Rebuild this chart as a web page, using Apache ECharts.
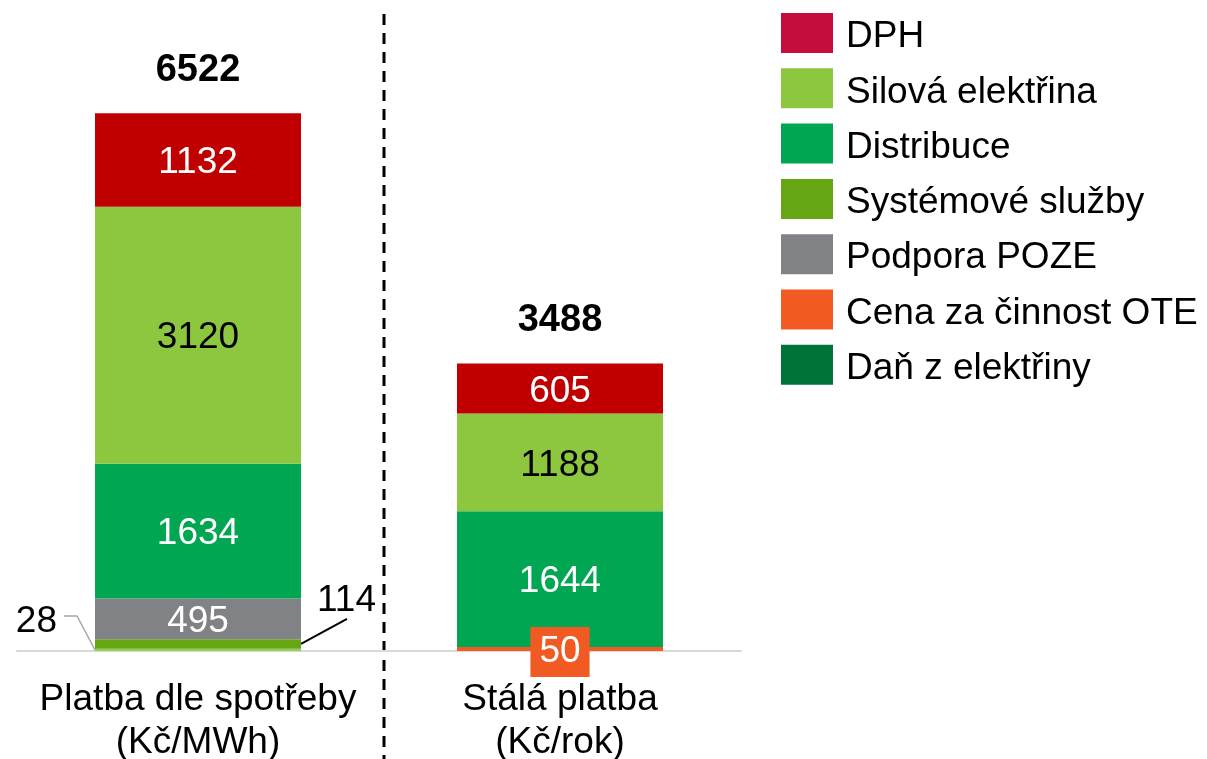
<!DOCTYPE html>
<html>
<head>
<meta charset="utf-8">
<script src="https://cdn.jsdelivr.net/npm/echarts@6/dist/echarts.min.js"></script>
<style>
html,body{margin:0;padding:0;background:#fff;}
#main{width:1207px;height:759px;}
</style>
</head>
<body>
<div id="main"></div>
<script>
// kategorie a hodnoty
var categories = ['Platba dle spotřeby\n(Kč/MWh)', 'Stálá platba\n(Kč/rok)'];
var totals = [6522, 3488];
var danElektriny = [28, 0];
var systemove = [114, 0];
var podporaPoze = [495, 0];
var cenaOte = [0, 50];
var distribuce = [1634, 1644];
var silova = [3120, 1188];
var dph = [1132, 605];

var legendNames = ['DPH', 'Silová elektřina', 'Distribuce', 'Systémové služby', 'Podpora POZE', 'Cena za činnost OTE', 'Daň z elektřiny'];
var legendColors = ['#C40D3C', '#8DC63F', '#00A651', '#66A614', '#808285', '#F15A22', '#00733A'];

var FONT = "'Liberation Sans', Arial, sans-serif";
var FS = 37;
var BAR_W = 206;

function toItems(arr){
	return arr.map(function(v){ return {value: v, label: {show: v > 0}}; });
}

function stackBar(name, arr, color, label, layout){
	var s = {
		name: name,
		type: 'bar',
		stack: 'total',
		barWidth: BAR_W,
		data: toItems(arr),
		itemStyle: {color: color},
		label: label
	};
	if (layout) s.labelLayout = layout;
	return s;
}

function inLabel(color){
	return {show: true, position: 'inside', offset: [0, 3], color: color, fontSize: FS, fontFamily: FONT};
}

var chart = echarts.init(document.getElementById('main'));

var option = {
	animation: false,
	backgroundColor: '#fff',
	textStyle: {fontFamily: FONT},
	grid: {left: 17, right: 466, top: 74, bottom: 108, outerBoundsMode: 'none', containLabel: false},
	legend: {
		orient: 'vertical',
		left: 781,
		top: 13,
		padding: 0,
		icon: 'rect',
		itemWidth: 52,
		itemHeight: 40,
		itemGap: 12.8,
		formatter: '{t|{name}}',
		textStyle: {
			fontSize: FS, color: '#000', fontFamily: FONT,
			rich: {t: {fontSize: FS, color: '#000', fontFamily: FONT, padding: [8, 0, 0, 8]}}
		},
		data: legendNames.map(function(n, i){ return {name: n, itemStyle: {color: legendColors[i]}}; })
	},
	xAxis: {
		type: 'category',
		data: categories,
		axisTick: {show: false},
		axisLine: {lineStyle: {color: '#D9D9D9', width: 2}},
		axisLabel: {interval: 0, fontSize: FS, color: '#000', lineHeight: 43, margin: 27, fontFamily: FONT}
	},
	yAxis: {type: 'value', min: 0, max: 7000, show: false, splitLine: {show: false}},
	series: [
		stackBar('Daň z elektřiny', danElektriny, '#92D050',
			{show: true, position: 'left', distance: 5, color: '#000', fontSize: FS, fontFamily: FONT},
			{dx: -33, dy: -28}),
		stackBar('Systémové služby', systemove, '#66A614',
			{show: true, position: 'right', distance: 5, color: '#000', fontSize: FS, fontFamily: FONT},
			{dx: 11, dy: -43}),
		stackBar('Podpora POZE', podporaPoze, '#808285', inLabel('#fff')),
		stackBar('Cena za činnost OTE', cenaOte, '#F15A22',
			{show: true, position: 'inside', offset: [0, 3], color: '#fff', fontSize: FS, fontFamily: FONT,
			 backgroundColor: '#F15A22', padding: [6, 9, 6, 9], lineHeight: 38}),
		stackBar('Distribuce', distribuce, '#00A651', inLabel('#fff')),
		stackBar('Silová elektřina', silova, '#8DC63F', inLabel('#000')),
		stackBar('DPH', dph, '#C00000', inLabel('#fff')),
		{
			name: 'celkem',
			type: 'scatter',
			symbolSize: 0,
			silent: true,
			data: totals,
			itemStyle: {opacity: 1},
			label: {show: true, position: 'top', distance: 24, color: '#000', fontSize: 38, fontWeight: 'bold', fontFamily: FONT},
			z: 10
		}
	]
};

chart.setOption(option);

// vodici cary k popiskum 28 a 114, deleni grafu
var base = chart.convertToPixel({seriesIndex: 0}, [0, 0]);
var sysMid = chart.convertToPixel({seriesIndex: 1}, [0, danElektriny[0] + systemove[0] / 2]);
var xL = base[0] - BAR_W / 2;
var xR = base[0] + BAR_W / 2;

chart.setOption({
	graphic: [
		{
			type: 'line',
			shape: {x1: 384, y1: 14, x2: 384, y2: 759},
			style: {stroke: '#000', lineWidth: 3, lineDash: [11, 8]}
		},
		{
			type: 'polyline',
			shape: {points: [[xL, base[1] - 1], [xL - 18, base[1] - 35], [xL - 31, base[1] - 35]]},
			style: {stroke: '#A6A6A6', lineWidth: 1.5, fill: null}
		},
		{
			type: 'line',
			shape: {x1: xR, y1: sysMid[1], x2: xR + 46, y2: sysMid[1] - 25},
			style: {stroke: '#000', lineWidth: 2}
		}
	]
});
</script>
</body>
</html>
